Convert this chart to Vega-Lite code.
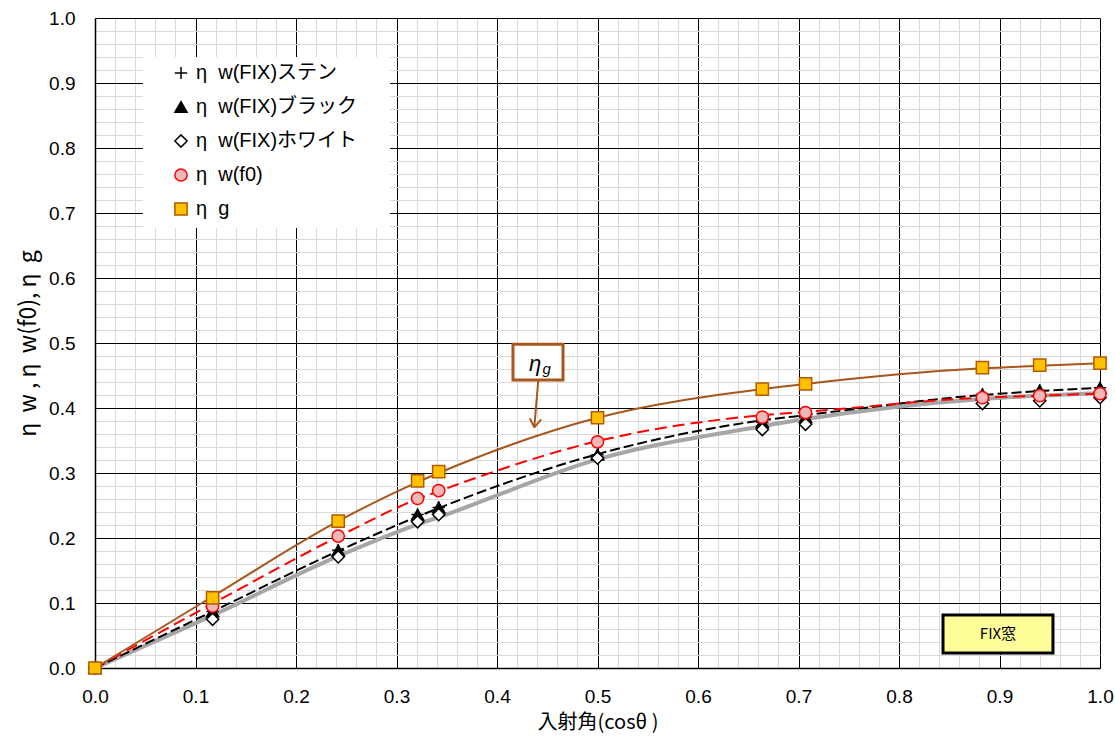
{
  "$schema": "https://vega.github.io/schema/vega-lite/v6.json",
  "width": 1005,
  "height": 650,
  "autosize": {"type": "none"},
  "padding": {"left": 95, "top": 18, "right": 15, "bottom": 70},
  "background": "white",
  "config": {"view": {"stroke": null}, "font": "Liberation Sans, Noto Sans CJK JP"},
  "datasets": {
    "pts": [
      {"x": 0, "s": "stn", "v": 0},
      {"x": 0.117, "s": "stn", "v": 0.087},
      {"x": 0.242, "s": "stn", "v": 0.181},
      {"x": 0.321, "s": "stn", "v": 0.236},
      {"x": 0.342, "s": "stn", "v": 0.247},
      {"x": 0.5, "s": "stn", "v": 0.328},
      {"x": 0.664, "s": "stn", "v": 0.378},
      {"x": 0.707, "s": "stn", "v": 0.386},
      {"x": 0.883, "s": "stn", "v": 0.421},
      {"x": 0.94, "s": "stn", "v": 0.427},
      {"x": 1.0, "s": "stn", "v": 0.431},
      {"x": 0, "s": "blk", "v": 0},
      {"x": 0.117, "s": "blk", "v": 0.087},
      {"x": 0.242, "s": "blk", "v": 0.181},
      {"x": 0.321, "s": "blk", "v": 0.236},
      {"x": 0.342, "s": "blk", "v": 0.247},
      {"x": 0.5, "s": "blk", "v": 0.328},
      {"x": 0.664, "s": "blk", "v": 0.378},
      {"x": 0.707, "s": "blk", "v": 0.386},
      {"x": 0.883, "s": "blk", "v": 0.421},
      {"x": 0.94, "s": "blk", "v": 0.427},
      {"x": 1.0, "s": "blk", "v": 0.431},
      {"x": 0, "s": "wht", "v": 0},
      {"x": 0.117, "s": "wht", "v": 0.075},
      {"x": 0.242, "s": "wht", "v": 0.171},
      {"x": 0.321, "s": "wht", "v": 0.225},
      {"x": 0.342, "s": "wht", "v": 0.236},
      {"x": 0.5, "s": "wht", "v": 0.323},
      {"x": 0.664, "s": "wht", "v": 0.367},
      {"x": 0.707, "s": "wht", "v": 0.375},
      {"x": 0.883, "s": "wht", "v": 0.407},
      {"x": 0.94, "s": "wht", "v": 0.411},
      {"x": 1.0, "s": "wht", "v": 0.416},
      {"x": 0, "s": "f0", "v": 0},
      {"x": 0.117, "s": "f0", "v": 0.095},
      {"x": 0.242, "s": "f0", "v": 0.203},
      {"x": 0.321, "s": "f0", "v": 0.261},
      {"x": 0.342, "s": "f0", "v": 0.273},
      {"x": 0.5, "s": "f0", "v": 0.348},
      {"x": 0.664, "s": "f0", "v": 0.386},
      {"x": 0.707, "s": "f0", "v": 0.393},
      {"x": 0.883, "s": "f0", "v": 0.416},
      {"x": 0.94, "s": "f0", "v": 0.419},
      {"x": 1.0, "s": "f0", "v": 0.422},
      {"x": 0, "s": "g", "v": 0},
      {"x": 0.117, "s": "g", "v": 0.108},
      {"x": 0.242, "s": "g", "v": 0.226},
      {"x": 0.321, "s": "g", "v": 0.288},
      {"x": 0.342, "s": "g", "v": 0.302},
      {"x": 0.5, "s": "g", "v": 0.385},
      {"x": 0.664, "s": "g", "v": 0.429},
      {"x": 0.707, "s": "g", "v": 0.437},
      {"x": 0.883, "s": "g", "v": 0.462},
      {"x": 0.94, "s": "g", "v": 0.466},
      {"x": 1.0, "s": "g", "v": 0.469}
    ],
    "cv": [
      {"x": 0, "c": "gray", "v": 0},
      {"x": 0.117, "c": "gray", "v": 0.081},
      {"x": 0.242, "c": "gray", "v": 0.172},
      {"x": 0.321, "c": "gray", "v": 0.221},
      {"x": 0.342, "c": "gray", "v": 0.232},
      {"x": 0.5, "c": "gray", "v": 0.321},
      {"x": 0.664, "c": "gray", "v": 0.372},
      {"x": 0.707, "c": "gray", "v": 0.383},
      {"x": 0.883, "c": "gray", "v": 0.414},
      {"x": 0.94, "c": "gray", "v": 0.419},
      {"x": 1.0, "c": "gray", "v": 0.423},
      {"x": 0, "c": "black", "v": 0},
      {"x": 0.117, "c": "black", "v": 0.087},
      {"x": 0.242, "c": "black", "v": 0.18},
      {"x": 0.321, "c": "black", "v": 0.233},
      {"x": 0.342, "c": "black", "v": 0.246},
      {"x": 0.5, "c": "black", "v": 0.329},
      {"x": 0.664, "c": "black", "v": 0.381},
      {"x": 0.707, "c": "black", "v": 0.389},
      {"x": 0.883, "c": "black", "v": 0.42},
      {"x": 0.94, "c": "black", "v": 0.426},
      {"x": 1.0, "c": "black", "v": 0.431},
      {"x": 0, "c": "red", "v": 0},
      {"x": 0.117, "c": "red", "v": 0.099},
      {"x": 0.242, "c": "red", "v": 0.202},
      {"x": 0.321, "c": "red", "v": 0.26},
      {"x": 0.342, "c": "red", "v": 0.272},
      {"x": 0.5, "c": "red", "v": 0.349},
      {"x": 0.664, "c": "red", "v": 0.389},
      {"x": 0.707, "c": "red", "v": 0.394},
      {"x": 0.883, "c": "red", "v": 0.416},
      {"x": 0.94, "c": "red", "v": 0.419},
      {"x": 1.0, "c": "red", "v": 0.422},
      {"x": 0, "c": "brown", "v": 0},
      {"x": 0.117, "c": "brown", "v": 0.11},
      {"x": 0.242, "c": "brown", "v": 0.226},
      {"x": 0.321, "c": "brown", "v": 0.286},
      {"x": 0.342, "c": "brown", "v": 0.3},
      {"x": 0.5, "c": "brown", "v": 0.385},
      {"x": 0.664, "c": "brown", "v": 0.429},
      {"x": 0.707, "c": "brown", "v": 0.437},
      {"x": 0.883, "c": "brown", "v": 0.461},
      {"x": 0.94, "c": "brown", "v": 0.465},
      {"x": 1.0, "c": "brown", "v": 0.469}
    ],
    "boxes": [
      {"kind": "legend", "x1": 0.0478, "x2": 0.2935, "y1": 0.677, "y2": 0.94},
      {"kind": "fix", "x1": 0.8438, "x2": 0.9532, "y1": 0.023, "y2": 0.0815},
      {"kind": "eta", "x1": 0.4159, "x2": 0.4657, "y1": 0.443, "y2": 0.498}
    ],
    "arrow": [
      {"x1": 0.4411, "y1": 0.4431, "x2": 0.4371, "y2": 0.3703},
      {"x1": 0.4326, "y1": 0.3841, "x2": 0.4371, "y2": 0.3703},
      {"x1": 0.444, "y1": 0.3826, "x2": 0.4371, "y2": 0.3703}
    ],
    "labels": [
      {"kind": "fix", "x": 0.8985, "y": 0.052, "t": "FIX窓"},
      {"kind": "eta", "x": 0.4378, "y": 0.467, "t": "η"},
      {"kind": "sub", "x": 0.4495, "y": 0.46, "t": "g"}
    ]
  },
  "layer": [
    {
      "data": {"name": "boxes"},
      "transform": [{"filter": "datum.kind === 'legend'"}],
      "mark": {"type": "rect", "fill": "white"},
      "encoding": {
        "x": {"field": "x1", "type": "quantitative", "scale": {"domain": [0, 1], "nice": false, "zero": false},
          "axis": {"orient": "bottom", "tickCount": 50, "grid": true, "gridColor": "#d9d9d9", "gridWidth": 1, "labels": false, "ticks": false, "domain": false, "title": null}},
        "x2": {"field": "x2"},
        "y": {"field": "y1", "type": "quantitative", "scale": {"domain": [0, 1], "nice": false, "zero": false},
          "axis": {"orient": "left", "tickCount": 50, "grid": true, "gridColor": "#d9d9d9", "gridWidth": 1, "labels": false, "ticks": false, "domain": false, "title": null}},
        "y2": {"field": "y2"}
      }
    },
    {
      "data": {"name": "boxes"},
      "transform": [{"filter": "datum.kind === 'fix'"}],
      "mark": {"type": "rect", "fill": "#ffff99", "stroke": "#000000", "strokeWidth": 3},
      "encoding": {
        "x": {"field": "x1", "type": "quantitative",
          "axis": {"orient": "bottom", "tickCount": 10, "grid": true, "gridColor": "#000000", "gridWidth": 1, "gridOpacity": 1, "domain": true, "domainColor": "#000000", "domainWidth": 1.5, "ticks": false, "format": ".1f", "labelFontSize": 19, "labelColor": "#000000", "labelPadding": 19, "labelFlush": false, "labelOverlap": false, "title": "入射角(cosθ )", "titleFont": "Noto Sans CJK JP", "titleFontSize": 20, "titleFontWeight": "normal", "titleColor": "#000000", "titlePadding": 6}},
        "x2": {"field": "x2"},
        "y": {"field": "y1", "type": "quantitative",
          "axis": {"orient": "left", "tickCount": 10, "grid": true, "gridColor": "#000000", "gridWidth": 1, "gridOpacity": 1, "domain": true, "domainColor": "#000000", "domainWidth": 1.5, "ticks": false, "format": ".1f", "labelFontSize": 19, "labelColor": "#000000", "labelPadding": 20, "labelFlush": false, "labelOverlap": false, "title": "η\u00a0\u00a0w\u00a0,\u00a0η\u00a0\u00a0w(f0),\u00a0η\u00a0\u00a0g", "titleFont": "Noto Sans CJK JP", "titleFontSize": 23, "titleFontWeight": "normal", "titleColor": "#000000", "titlePadding": 8}},
        "y2": {"field": "y2"}
      }
    },
    {
      "data": {"name": "cv"},
      "transform": [{"filter": "datum.c === 'gray'"}],
      "mark": {"type": "line", "stroke": "#a6a6a6", "strokeWidth": 4, "interpolate": "monotone"},
      "encoding": {
        "x": {"field": "x", "type": "quantitative", "axis": null},
        "y": {"field": "v", "type": "quantitative", "axis": null}
      }
    },
    {
      "data": {"name": "cv"},
      "transform": [{"filter": "datum.c === 'black'"}],
      "mark": {"type": "line", "stroke": "#000000", "strokeWidth": 2, "strokeDash": [10, 4], "interpolate": "monotone"},
      "encoding": {
        "x": {"field": "x", "type": "quantitative", "axis": null},
        "y": {"field": "v", "type": "quantitative", "axis": null}
      }
    },
    {
      "data": {"name": "cv"},
      "transform": [{"filter": "datum.c === 'red'"}],
      "mark": {"type": "line", "stroke": "#ff0000", "strokeWidth": 2, "strokeDash": [12, 6], "interpolate": "monotone"},
      "encoding": {
        "x": {"field": "x", "type": "quantitative", "axis": null},
        "y": {"field": "v", "type": "quantitative", "axis": null}
      }
    },
    {
      "data": {"name": "cv"},
      "transform": [{"filter": "datum.c === 'brown'"}],
      "mark": {"type": "line", "stroke": "#a8561c", "strokeWidth": 2, "interpolate": "monotone"},
      "encoding": {
        "x": {"field": "x", "type": "quantitative", "axis": null},
        "y": {"field": "v", "type": "quantitative", "axis": null}
      }
    },
    {
      "data": {"name": "pts"},
      "mark": {"type": "point", "filled": false, "opacity": 1, "size": 150, "strokeWidth": 1.5},
      "encoding": {
        "x": {"field": "x", "type": "quantitative", "axis": null},
        "y": {"field": "v", "type": "quantitative", "axis": null},
        "shape": {"field": "s", "type": "nominal",
          "scale": {"domain": ["stn", "blk", "wht", "f0", "g"],
            "range": ["M-1,0H1M0,-1V1", "triangle-up", "diamond", "circle", "square"]},
          "legend": {"orient": "none", "legendX": 76, "legendY": 45, "title": null, "padding": 0, "rowPadding": 14, "labelFontSize": 20, "labelLimit": 400, "labelColor": "#000000", "labelOffset": 5, "symbolSize": 150, "symbolStrokeWidth": 1.5, "symbolOpacity": 1,
            "labelExpr": "{'stn': 'η\u00a0\u00a0w(FIX)ステン', 'blk': 'η\u00a0\u00a0w(FIX)ブラック', 'wht': 'η\u00a0\u00a0w(FIX)ホワイト', 'f0': 'η\u00a0\u00a0w(f0)', 'g': 'η\u00a0\u00a0g'}[datum.value]"}},
        "fill": {"field": "s", "type": "nominal",
          "scale": {"domain": ["stn", "blk", "wht", "f0", "g"],
            "range": ["transparent", "#000000", "#ffffff", "#f2b8b8", "#ffc000"]},
          "legend": {"orient": "none", "legendX": 76, "legendY": 45, "title": null, "padding": 0, "rowPadding": 14, "labelFontSize": 20, "labelLimit": 400, "labelColor": "#000000", "labelOffset": 5, "symbolSize": 150, "symbolStrokeWidth": 1.5, "symbolOpacity": 1,
            "labelExpr": "{'stn': 'η\u00a0\u00a0w(FIX)ステン', 'blk': 'η\u00a0\u00a0w(FIX)ブラック', 'wht': 'η\u00a0\u00a0w(FIX)ホワイト', 'f0': 'η\u00a0\u00a0w(f0)', 'g': 'η\u00a0\u00a0g'}[datum.value]"}},
        "stroke": {"field": "s", "type": "nominal",
          "scale": {"domain": ["stn", "blk", "wht", "f0", "g"],
            "range": ["#000000", "#000000", "#000000", "#ff0000", "#b35a00"]},
          "legend": {"orient": "none", "legendX": 76, "legendY": 45, "title": null, "padding": 0, "rowPadding": 14, "labelFontSize": 20, "labelLimit": 400, "labelColor": "#000000", "labelOffset": 5, "symbolSize": 150, "symbolStrokeWidth": 1.5, "symbolOpacity": 1,
            "labelExpr": "{'stn': 'η\u00a0\u00a0w(FIX)ステン', 'blk': 'η\u00a0\u00a0w(FIX)ブラック', 'wht': 'η\u00a0\u00a0w(FIX)ホワイト', 'f0': 'η\u00a0\u00a0w(f0)', 'g': 'η\u00a0\u00a0g'}[datum.value]"}}
      }
    },
    {
      "data": {"name": "boxes"},
      "transform": [{"filter": "datum.kind === 'eta'"}],
      "mark": {"type": "rect", "fill": "#ffffff", "stroke": "#a8561c", "strokeWidth": 3},
      "encoding": {
        "x": {"field": "x1", "type": "quantitative", "axis": null},
        "x2": {"field": "x2"},
        "y": {"field": "y1", "type": "quantitative", "axis": null},
        "y2": {"field": "y2"}
      }
    },
    {
      "data": {"name": "arrow"},
      "mark": {"type": "rule", "stroke": "#a8561c", "strokeWidth": 2},
      "encoding": {
        "x": {"field": "x1", "type": "quantitative", "axis": null},
        "y": {"field": "y1", "type": "quantitative", "axis": null},
        "x2": {"field": "x2"},
        "y2": {"field": "y2"}
      }
    },
    {
      "data": {"name": "labels"},
      "transform": [{"filter": "datum.kind === 'fix'"}],
      "mark": {"type": "text", "fontSize": 15, "font": "Noto Sans CJK JP", "color": "#000000", "align": "center", "baseline": "middle"},
      "encoding": {
        "x": {"field": "x", "type": "quantitative", "axis": null},
        "y": {"field": "y", "type": "quantitative", "axis": null},
        "text": {"field": "t"}
      }
    },
    {
      "data": {"name": "labels"},
      "transform": [{"filter": "datum.kind === 'eta'"}],
      "mark": {"type": "text", "fontSize": 22, "fontStyle": "italic", "color": "#000000", "align": "center", "baseline": "middle"},
      "encoding": {
        "x": {"field": "x", "type": "quantitative", "axis": null},
        "y": {"field": "y", "type": "quantitative", "axis": null},
        "text": {"field": "t"}
      }
    },
    {
      "data": {"name": "labels"},
      "transform": [{"filter": "datum.kind === 'sub'"}],
      "mark": {"type": "text", "fontSize": 15, "fontStyle": "italic", "color": "#000000", "align": "center", "baseline": "middle"},
      "encoding": {
        "x": {"field": "x", "type": "quantitative", "axis": null},
        "y": {"field": "y", "type": "quantitative", "axis": null},
        "text": {"field": "t"}
      }
    }
  ],
  "resolve": {"axis": {"x": "independent", "y": "independent"}}
}
